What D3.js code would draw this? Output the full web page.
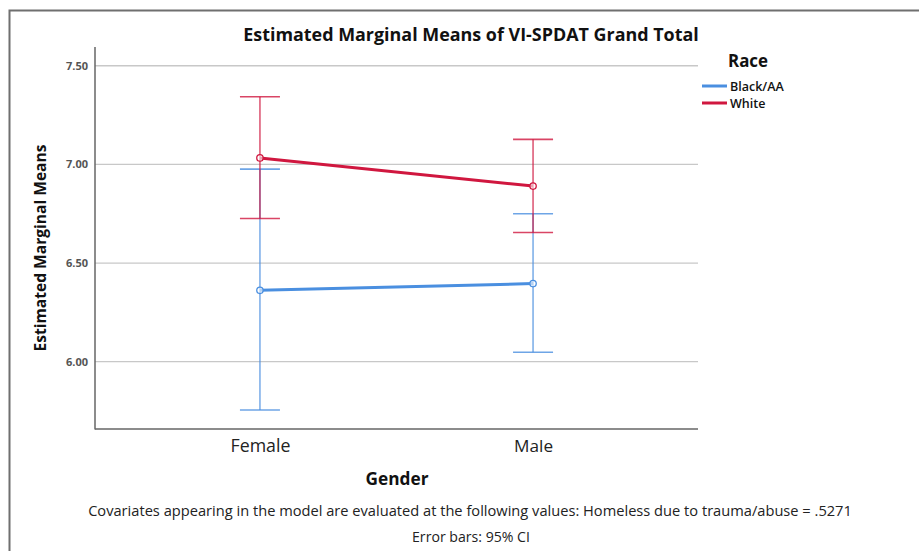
<!DOCTYPE html>
<html>
<head>
<meta charset="utf-8">
<script src="https://cdn.jsdelivr.net/npm/d3@7/dist/d3.min.js"></script>
<style>
  html, body { margin: 0; padding: 0; background: #fff; }
  svg { display: block; }
  text { font-family: "Open Sans", "DejaVu Sans", sans-serif; }
</style>
</head>
<body>
<svg id="chart" width="919" height="551"></svg>
<script>
// ---------- data ----------
const genders = ["Female", "Male"];
const races = ["Black/AA", "White"];
const blackMeans = [6.362, 6.396];
const blackLower = [5.755, 6.048];
const blackUpper = [6.976, 6.750];
const whiteMeans = [7.033, 6.890];
const whiteLower = [6.726, 6.655];
const whiteUpper = [7.343, 7.127];
const yTicks = [6.00, 6.50, 7.00, 7.50];
const yRange = [5.659, 7.595];

const titleText = "Estimated Marginal Means of VI-SPDAT Grand Total";
const yTitle = "Estimated Marginal Means";
const xTitle = "Gender";
const legendTitle = "Race";
const note1 = "Covariates appearing in the model are evaluated at the following values: Homeless due to trauma/abuse = .5271";
const note2 = "Error bars: 95% CI";

// ---------- layout ----------
const svg = d3.select("#chart");
const W = 919, H = 551;
const plot = { left: 95, right: 698, top: 47, bottom: 429 };
const colors = { "Black/AA": "#4a8fe0", "White": "#d0173f" };

svg.append("rect").attr("width", W).attr("height", H).attr("fill", "#fff");
// outer frame
svg.append("rect")
  .attr("x", 9.5).attr("y", 10.5).attr("width", 960).attr("height", 620)
  .attr("fill", "none").attr("stroke", "#6f6f6f").attr("stroke-width", 2);

const x = d3.scalePoint().domain(genders).range([plot.left, plot.right]).padding(0.604);
const y = d3.scaleLinear().domain(yRange).range([plot.bottom, plot.top]);

// fit helper: scale font size so rendered width matches target
function fit(sel, target) {
  const node = sel.node();
  const fs = parseFloat(sel.attr("font-size"));
  const len = node.getComputedTextLength();
  if (len > 0) sel.attr("font-size", (fs * target / len).toFixed(2));
  return sel;
}

// gridlines
svg.append("g")
  .selectAll("line").data(yTicks).join("line")
  .attr("x1", plot.left).attr("x2", plot.right)
  .attr("y1", d => y(d)).attr("y2", d => y(d))
  .attr("stroke", "#c8c8c8").attr("stroke-width", 1.3);

// y axis
const yAxis = svg.append("g")
  .attr("transform", `translate(${plot.left},0)`)
  .call(d3.axisLeft(y).tickValues(yTicks).tickFormat(d3.format(".2f")).tickSize(0).tickPadding(7));
yAxis.select(".domain").remove();
yAxis.selectAll("text")
  .attr("font-family", "Open Sans, sans-serif")
  .attr("font-size", 11).attr("font-weight", "bold").attr("fill", "#555");
svg.append("line")
  .attr("x1", plot.left).attr("x2", plot.left).attr("y1", plot.top).attr("y2", plot.bottom + 0.5)
  .attr("stroke", "#666").attr("stroke-width", 1.5);

// x axis
const xAxis = svg.append("g")
  .attr("transform", `translate(0,${plot.bottom})`)
  .call(d3.axisBottom(x).tickSize(0).tickPadding(10));
xAxis.select(".domain").remove();
svg.append("line")
  .attr("x1", plot.left).attr("x2", plot.right).attr("y1", plot.bottom).attr("y2", plot.bottom)
  .attr("stroke", "#666").attr("stroke-width", 1.5);
xAxis.selectAll("text")
  .attr("font-family", "Open Sans, sans-serif")
  .attr("font-size", 15).attr("font-weight", 500).attr("fill", "#222").attr("dy", null).attr("y", 23);
xAxis.selectAll("text").each(function (d) {
  fit(d3.select(this), d === "Female" ? 60 : 39);
});

// series
const series = [
  { race: "Black/AA", means: blackMeans, lo: blackLower, hi: blackUpper },
  { race: "White", means: whiteMeans, lo: whiteLower, hi: whiteUpper }
];
const capHalf = 20;
series.forEach(s => {
  const g = svg.append("g");
  const c = colors[s.race];
  const pts = genders.map((gd, i) => ({ g: gd, m: s.means[i], lo: s.lo[i], hi: s.hi[i] }));
  // error bars
  g.selectAll("line.v").data(pts).join("line")
    .attr("x1", d => x(d.g)).attr("x2", d => x(d.g))
    .attr("y1", d => y(d.lo)).attr("y2", d => y(d.hi))
    .attr("stroke", c).attr("stroke-width", 1.4).attr("stroke-opacity", 0.8);
  ["lo", "hi"].forEach(k => {
    g.selectAll("line.cap" + k).data(pts).join("line")
      .attr("x1", d => x(d.g) - capHalf).attr("x2", d => x(d.g) + capHalf)
      .attr("y1", d => y(d[k])).attr("y2", d => y(d[k]))
      .attr("stroke", c).attr("stroke-width", 1.6).attr("stroke-opacity", 0.8);
  });
});
series.forEach(s => {
  const c = colors[s.race];
  const pts = genders.map((gd, i) => ({ g: gd, m: s.means[i] }));
  svg.append("path").datum(pts)
    .attr("d", d3.line().x(d => x(d.g)).y(d => y(d.m)))
    .attr("fill", "none").attr("stroke", c).attr("stroke-width", 3);
  svg.append("g").selectAll("circle").data(pts).join("circle")
    .attr("cx", d => x(d.g)).attr("cy", d => y(d.m)).attr("r", 3.2)
    .attr("fill", "#fff").attr("fill-opacity", 0.6).attr("stroke", c).attr("stroke-width", 1.3);
});

// title
fit(svg.append("text").text(titleText)
  .attr("x", 471).attr("y", 41).attr("text-anchor", "middle")
  .attr("font-size", 16).attr("font-weight", "bold").attr("fill", "#111"), 456);

// y title
fit(svg.append("text").text(yTitle)
  .attr("transform", "translate(46,248) rotate(-90)").attr("text-anchor", "middle")
  .attr("font-size", 16).attr("font-weight", "bold").attr("fill", "#111"), 207);

// x title
fit(svg.append("text").text(xTitle)
  .attr("x", 397).attr("y", 485).attr("text-anchor", "middle")
  .attr("font-size", 16).attr("font-weight", "bold").attr("fill", "#111"), 63);

// legend
fit(svg.append("text").text(legendTitle)
  .attr("x", 728).attr("y", 67)
  .attr("font-size", 16).attr("font-weight", "bold").attr("fill", "#111"), 40);
const legendY = [86, 103];
const lg = svg.append("g");
lg.selectAll("line").data(races).join("line")
  .attr("x1", 702).attr("x2", 727)
  .attr("y1", (d, i) => legendY[i]).attr("y2", (d, i) => legendY[i])
  .attr("stroke", d => colors[d]).attr("stroke-width", 3);
lg.selectAll("text").data(races).join("text")
  .text(d => d)
  .attr("x", 730).attr("y", (d, i) => legendY[i] + 4.7)
  .attr("font-size", 12.5).attr("font-weight", 600).attr("fill", "#111");

// notes
fit(svg.append("text").text(note1)
  .attr("x", 470).attr("y", 516).attr("text-anchor", "middle")
  .attr("font-size", 13).attr("fill", "#222"), 764);
fit(svg.append("text").text(note2)
  .attr("x", 471).attr("y", 542).attr("text-anchor", "middle")
  .attr("font-size", 13).attr("fill", "#222"), 118);
</script>
</body>
</html>
